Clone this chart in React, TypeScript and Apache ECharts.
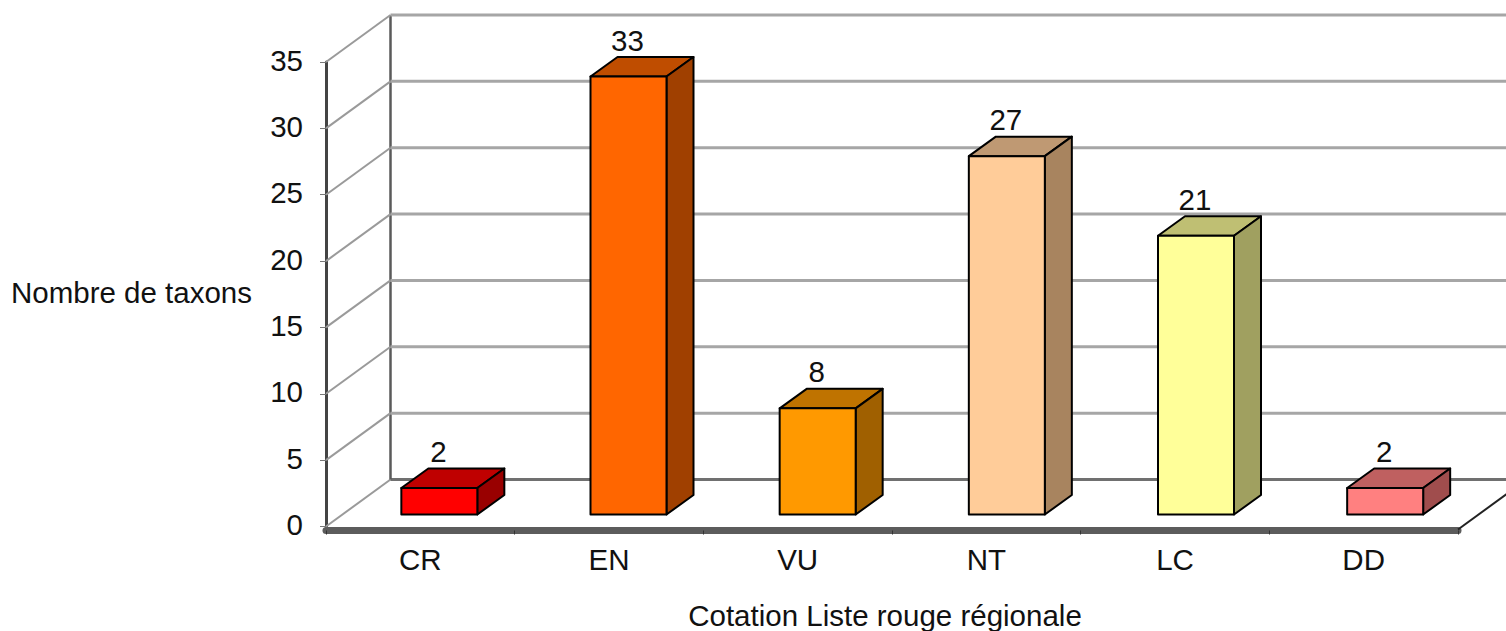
import React, { useEffect, useRef } from "react";
import * as echarts from "echarts";

const categories = ["CR", "EN", "VU", "NT", "LC", "DD"];
const taxonCounts = [2, 33, 8, 27, 21, 2];
const wallTicks = [0, 5, 10, 15, 20, 25, 30, 35];
const frontColors = ["#ff0000", "#ff6600", "#ff9900", "#ffcc99", "#ffff99", "#ff8080"];
const topColors = ["#bf0000", "#bf4d00", "#bf7300", "#bf9973", "#bfbf73", "#bf6060"];
const sideColors = ["#990000", "#a04000", "#a06000", "#a8845f", "#a0a060", "#a04d4d"];

const FONT = '"Liberation Sans", Arial, sans-serif';
const FONT_SIZE = 29.5;
const TEXT = "#111111";
const WALL_DX = 64.5;
const WALL_DY = -47;
const BAR_SHIFT_X = 19;
const BAR_SPREAD = 0.5;
const BAR_SHIFT_Y = -12;
const BAR_WIDTH = 76;
const BAR_DX = 27;
const BAR_DY = -19.5;

const renderWall = (params: any, api: any) => {
  const value = api.value(1);
  const band = api.size([1, 0])[0];
  const first = api.coord([0, value]);
  const last = api.coord([5, value]);
  const x0 = first[0] - band / 2;
  const x1 = last[0] + band / 2;
  const y = first[1];
  const isFloor = value === 0;
  const children: any[] = [
    {
      type: "line",
      shape: { x1: x0, y1: y, x2: x0 + WALL_DX, y2: y + WALL_DY },
      style: { stroke: "#9a9a9a", lineWidth: 2 },
    },
    {
      type: "line",
      shape: { x1: x0 + WALL_DX, y1: y + WALL_DY, x2: x1 + WALL_DX, y2: y + WALL_DY },
      style: { stroke: isFloor ? "#707070" : "#a6a6a6", lineWidth: 3 },
    },
  ];
  if (isFloor) {
    const top = api.coord([0, 35]);
    children.push(
      {
        type: "line",
        shape: { x1: x0 + WALL_DX, y1: y + WALL_DY, x2: x0 + WALL_DX, y2: top[1] + WALL_DY },
        style: { stroke: "#5a5a5a", lineWidth: 2.5 },
      },
      {
        type: "line",
        shape: { x1: x1, y1: y + 3, x2: x1 + WALL_DX, y2: y + 3 + WALL_DY },
        style: { stroke: "#222222", lineWidth: 2 },
      },
    );
  }
  return { type: "group", children };
};

const renderBar = (params: any, api: any) => {
  const i = params.dataIndex;
  const base = api.coord([api.value(0), 0]);
  const head = api.coord([api.value(0), api.value(1)]);
  const left = base[0] + BAR_SHIFT_X + i * BAR_SPREAD - BAR_WIDTH / 2;
  const right = left + BAR_WIDTH;
  const bottom = base[1] + BAR_SHIFT_Y;
  const top = head[1] + BAR_SHIFT_Y;
  const edge = { stroke: "#000000", lineWidth: 2, lineJoin: "round" };
  return {
    type: "group",
    children: [
      {
        type: "polygon",
        shape: { points: [[left, top], [left + BAR_DX, top + BAR_DY], [right + BAR_DX, top + BAR_DY], [right, top]] },
        style: { fill: topColors[i], ...edge },
      },
      {
        type: "polygon",
        shape: { points: [[right, top], [right + BAR_DX, top + BAR_DY], [right + BAR_DX, bottom + BAR_DY], [right, bottom]] },
        style: { fill: sideColors[i], ...edge },
      },
      {
        type: "rect",
        shape: { x: left, y: top, width: BAR_WIDTH, height: bottom - top },
        style: { fill: frontColors[i], ...edge },
      },
      {
        type: "text",
        x: (left + right) / 2 - 1,
        y: top + BAR_DY - 17,
        style: {
          text: String(taxonCounts[i]),
          fill: TEXT,
          font: `${FONT_SIZE}px ${FONT}`,
          textAlign: "center",
          textVerticalAlign: "middle",
        },
      },
    ],
  };
};

export default function App() {
  const ref = useRef<HTMLDivElement>(null);
  useEffect(() => {
    document.body.style.margin = "0";
    const chart = echarts.init(ref.current!, null, { renderer: "svg" });
    chart.setOption({
      animation: false,
      backgroundColor: "#ffffff",
      grid: { left: 326, right: 48, top: 62, bottom: 104.5, containLabel: false, outerBoundsMode: "none" },
      xAxis: {
        type: "category",
        data: categories,
        offset: 4,
        axisLine: { onZero: false, lineStyle: { color: "#5c5c5c", width: 7 } },
        axisTick: { show: true, alignWithLabel: false, length: 4, lineStyle: { color: "#333333", width: 1 } },
        axisLabel: { color: TEXT, fontFamily: FONT, fontSize: FONT_SIZE, margin: 14 },
        name: "Cotation Liste rouge régionale",
        nameLocation: "middle",
        nameGap: 70,
        nameTextStyle: { color: TEXT, fontFamily: FONT, fontSize: FONT_SIZE, padding: [0, 14, 0, 0] },
      },
      yAxis: {
        type: "value",
        min: 0,
        max: 35,
        interval: 5,
        splitLine: { show: false },
        axisLine: { show: true, lineStyle: { color: "#444444", width: 3 } },
        axisTick: { show: true, length: 6, lineStyle: { color: "#777777", width: 1 } },
        axisLabel: { color: TEXT, fontFamily: FONT, fontSize: FONT_SIZE, margin: 23, verticalAlign: "bottom", lineHeight: 4 },
        name: "Nombre de taxons",
        nameLocation: "middle",
        nameRotate: 0,
        nameGap: 74,
        nameTextStyle: { color: TEXT, fontFamily: FONT, fontSize: FONT_SIZE, verticalAlign: "bottom", lineHeight: 4 },
      },
      series: [
        {
          type: "custom",
          name: "wall",
          clip: false,
          silent: true,
          renderItem: renderWall,
          encode: { x: 0, y: 1 },
          data: wallTicks.map((v) => [0, v]),
          z: 1,
        },
        {
          type: "custom",
          name: "Nombre de taxons",
          clip: false,
          renderItem: renderBar,
          encode: { x: 0, y: 1 },
          data: taxonCounts.map((v, i) => [i, v]),
          z: 2,
        },
      ],
    });
    return () => chart.dispose();
  }, []);
  return <div ref={ref} style={{ width: 1506, height: 631 }} />;
}
